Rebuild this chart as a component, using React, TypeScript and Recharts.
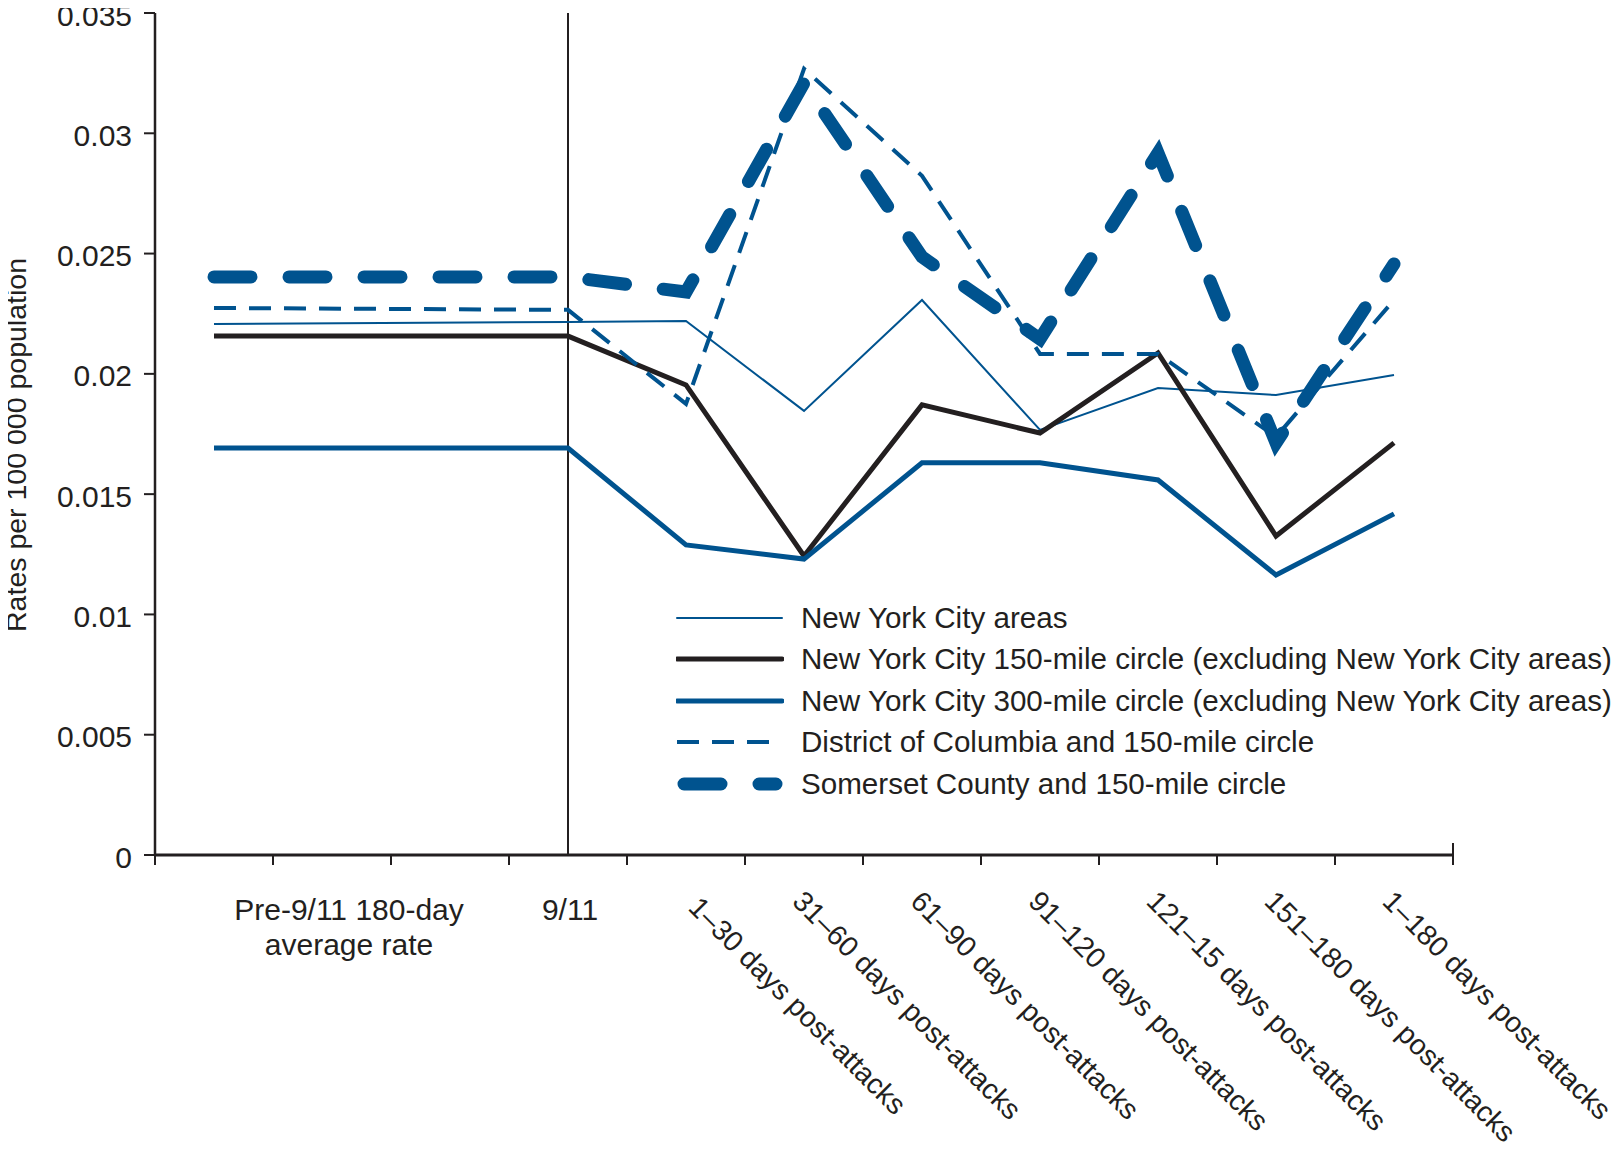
import React from 'react'
import { LineChart, Line, XAxis, YAxis, ReferenceLine, Legend, Label } from 'recharts'

// periods on the x axis, and the slot (0..11 scale) each one sits in
const periods = [
  'Pre-9/11 180-day average rate',
  '9/11',
  '1–30 days post-attacks',
  '31–60 days post-attacks',
  '61–90 days post-attacks',
  '91–120 days post-attacks',
  '121–15 days post-attacks',
  '151–180 days post-attacks',
  '1–180 days post-attacks',
]
const slots = [0.5, 3.5, 4.5, 5.5, 6.5, 7.5, 8.5, 9.5, 10.5]
const slotEdges = [0, 1, 2, 3, 4, 5, 6, 7, 8, 9, 10, 11]
const yTicks = [0, 0.005, 0.01, 0.015, 0.02, 0.025, 0.03, 0.035]

// rates per 100 000 population
const nycAreas = [0.02207, 0.02216, 0.0222, 0.01846, 0.02307, 0.01767, 0.01941, 0.01912, 0.01995]
const nyc150 = [0.02157, 0.02157, 0.01954, 0.01243, 0.01871, 0.01754, 0.02087, 0.01326, 0.01713]
const nyc300 = [0.01692, 0.01692, 0.01289, 0.0123, 0.0163, 0.0163, 0.01559, 0.01164, 0.01418]
const dc150 = [0.02274, 0.02266, 0.01875, 0.03268, 0.02823, 0.02083, 0.02083, 0.01738, 0.02307]
const somerset150 = [0.02403, 0.02403, 0.0234, 0.03209, 0.02486, 0.02145, 0.02918, 0.01713, 0.02457]

const BLUE = '#00538F'
const INK = '#231F20'
const FONT = '"Liberation Sans", Arial, sans-serif'
const TXT = 30

const series = [
  { key: 'nycAreas', name: 'New York City areas', color: BLUE, width: 2, dash: undefined, cap: 'butt' },
  { key: 'nyc150', name: 'New York City 150-mile circle (excluding New York City areas)', color: INK, width: 5, dash: undefined, cap: 'butt' },
  { key: 'nyc300', name: 'New York City 300-mile circle (excluding New York City areas)', color: BLUE, width: 5, dash: undefined, cap: 'butt' },
  { key: 'dc150', name: 'District of Columbia and 150-mile circle', color: BLUE, width: 4, dash: '22 13', cap: 'butt' },
  { key: 'somerset150', name: 'Somerset County and 150-mile circle', color: BLUE, width: 13, dash: '37 38', cap: 'round' },
] as const

const data = periods.map((period, i) => ({
  period,
  x: slots[i],
  nycAreas: nycAreas[i],
  nyc150: nyc150[i],
  nyc300: nyc300[i],
  dc150: dc150[i],
  somerset150: somerset150[i],
}))

const xTicks = [...slotEdges, ...slots].sort((a, b) => a - b)

function XTick(props: any) {
  const { x, y, payload } = props
  const v = payload.value
  if (slotEdges.includes(v)) {
    // tick marks sit on the slot edges; the last one crosses the axis
    const top = v === 11 ? y - 22 : y - 10
    return <line x1={x} x2={x} y1={top} y2={y} stroke={INK} strokeWidth={2} />
  }
  const i = slots.indexOf(v)
  if (i < 0) return null
  const label = periods[i]
  if (i === 0) {
    return (
      <text x={x + 135} y={y + 55} textAnchor="middle" fontSize={TXT} fill={INK} fontFamily={FONT}>
        <tspan x={x + 135}>Pre-9/11 180-day</tspan>
        <tspan x={x + 135} dy={35}>average rate</tspan>
      </text>
    )
  }
  if (i === 1) {
    return (
      <text x={x + 2} y={y + 55} textAnchor="middle" fontSize={TXT} fill={INK} fontFamily={FONT}>
        {label}
      </text>
    )
  }
  // the first rotated label sits a little further right in the original
  const ax = x - 13 + (i === 2 ? 14 : 0)
  const ay = y + 38 + (i === 2 ? 6 : 0)
  return (
    <text
      x={ax}
      y={ay}
      textAnchor="start"
      fontSize={28.5}
      fill={INK}
      fontFamily={FONT}
      transform={`rotate(45 ${ax} ${ay})`}
    >
      {label}
    </text>
  )
}

function YTick(props: any) {
  const { x, y, payload } = props
  return (
    <text x={x} y={y + 12.5} textAnchor="end" fontSize={TXT} fill={INK} fontFamily={FONT}>
      {String(payload.value)}
    </text>
  )
}

function LegendBox() {
  return (
    <div style={{ fontFamily: FONT, fontSize: 29.6, color: INK }}>
      {series.map(s => (
        <div key={s.key} style={{ display: 'flex', alignItems: 'center', height: 41.5 }}>
          <svg width={108} height={20} style={{ flex: 'none' }}>
            <line
              x1={s.cap === 'round' ? 8 : 1}
              x2={s.cap === 'round' ? 100 : 106}
              y1={10}
              y2={10}
              stroke={s.color}
              strokeWidth={s.width}
              strokeDasharray={s.dash}
              strokeLinecap={s.key === 'dc150' ? 'butt' : 'round'}
            />
          </svg>
          <span style={{ marginLeft: 17, whiteSpace: 'nowrap', lineHeight: '30px' }}>{s.name}</span>
        </div>
      ))}
    </div>
  )
}

export default function App() {
  const sept11 = data[1].x
  return (
    <div style={{ width: 1620, height: 1152, margin: -8, fontFamily: FONT, background: '#fff' }}>
      <style>{'svg.recharts-surface { overflow: visible !important; }'}</style>
      <LineChart width={1620} height={1152} data={data} margin={{ top: 13, right: 167, left: 0, bottom: 0 }}>
        <XAxis
          dataKey="x"
          type="number"
          domain={[0, 11]}
          ticks={xTicks}
          interval={0}
          height={297}
          tickLine={false}
          tickSize={10}
          tickMargin={0}
          tick={<XTick />}
          axisLine={{ stroke: INK, strokeWidth: 3 }}
        />
        <YAxis
          type="number"
          domain={[0, 0.035]}
          ticks={yTicks}
          interval={0}
          width={155}
          tickSize={11}
          tickMargin={12}
          tick={<YTick />}
          tickLine={{ stroke: INK, strokeWidth: 2 }}
          axisLine={{ stroke: INK, strokeWidth: 2.5 }}
        >
          <Label
            content={() => (
              <text
                x={26}
                y={445}
                textAnchor="middle"
                fontSize={28.5}
                fill={INK}
                fontFamily={FONT}
                transform="rotate(-90 26 445)"
              >
                Rates per 100 000 population
              </text>
            )}
          />
        </YAxis>
        <ReferenceLine x={sept11} stroke={INK} strokeWidth={2} />
        {series.map(s => (
          <Line
            key={s.key}
            dataKey={s.key}
            name={s.name}
            type="linear"
            stroke={s.color}
            strokeWidth={s.width}
            strokeDasharray={s.dash}
            strokeLinecap={s.cap}
            dot={false}
            activeDot={false}
            isAnimationActive={false}
          />
        ))}
        <Legend
          layout="horizontal"
          align="center"
          verticalAlign="middle"
          content={<LegendBox />}
          wrapperStyle={{ position: 'absolute', left: 676, top: 597, width: 940 }}
        />
      </LineChart>
    </div>
  )
}
